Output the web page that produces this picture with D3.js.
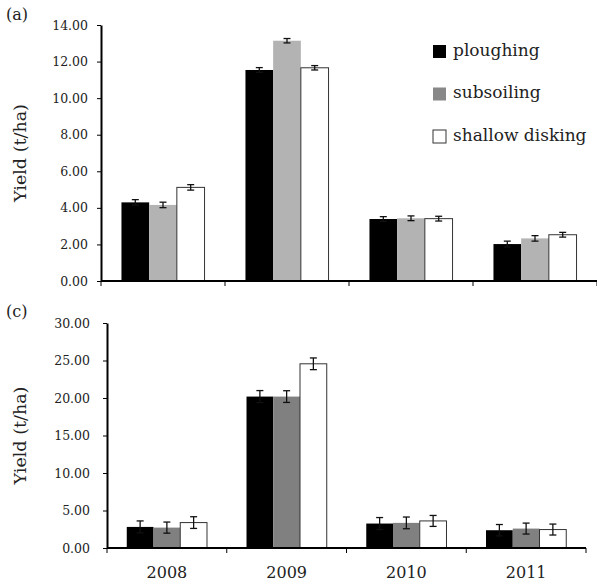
<!DOCTYPE html>
<html>
<head>
<meta charset="utf-8">
<script src="https://cdn.jsdelivr.net/npm/d3@7"></script>
<style>
  body { margin: 0; background: #fff; }
  svg { display: block; font-family: 'DejaVu Serif', serif; }
</style>
</head>
<body>
<svg id="chart" width="597" height="583"></svg>
<script>
const years = ['2008', '2009', '2010', '2011']
const seriesNames = ['ploughing', 'subsoiling', 'shallow disking']

// panel (a)
const ploughingA = [4.30, 11.54, 3.39, 2.02]
const subsoilingA = [4.16, 13.14, 3.43, 2.33]
const shallowA = [5.12, 11.66, 3.41, 2.53]
const ploughingErrA = [0.15, 0.13, 0.13, 0.16]
const subsoilingErrA = [0.15, 0.12, 0.13, 0.15]
const shallowErrA = [0.15, 0.12, 0.13, 0.13]
const ticksA = [0, 2, 4, 6, 8, 10, 12, 14]

// panel (c)
const ploughingC = [2.81, 20.19, 3.26, 2.37]
const subsoilingC = [2.72, 20.19, 3.35, 2.59]
const shallowC = [3.39, 24.56, 3.61, 2.46]
const ploughingErrC = [0.80, 0.80, 0.80, 0.76]
const subsoilingErrC = [0.74, 0.78, 0.78, 0.73]
const shallowErrC = [0.78, 0.78, 0.73, 0.73]
const ticksC = [0, 5, 10, 15, 20, 25, 30]

const TEXT = '#222'
const svg = d3.select('#chart')

function drawPanel(opts) {
    const { label, labelY, x0, x1, yTop, yBottom, yMax, ticks, values, errors, fills, showYears } = opts

    const x = d3.scaleBand().domain(years).range([x0, x1])
        .paddingInner(0.33).paddingOuter(0.165)
    const xs = d3.scaleBand().domain(seriesNames).range([0, x.bandwidth()])
    const y = d3.scaleLinear().domain([0, yMax]).range([yBottom, yTop])

    const g = svg.append('g')

    // bars
    seriesNames.forEach((s, si) => {
        const data = years.map((yr, i) => ({ yr, v: values[si][i], e: errors[si][i] }))
        g.selectAll(null).data(data).enter().append('rect')
            .attr('x', d => x(d.yr) + xs(s))
            .attr('y', d => y(d.v))
            .attr('width', xs.bandwidth())
            .attr('height', d => y(0) - y(d.v))
            .attr('fill', fills[si])
            .attr('stroke', si === 2 ? '#333' : 'none')
            .attr('stroke-width', 1)

        // error bars
        const eb = g.selectAll(null).data(data).enter().append('g')
            .attr('stroke', '#111').attr('stroke-width', 1.3)
        const cx = d => x(d.yr) + xs(s) + xs.bandwidth() / 2
        eb.append('line')
            .attr('x1', cx).attr('x2', cx)
            .attr('y1', d => y(d.v + d.e)).attr('y2', d => y(d.v - d.e))
        eb.append('line')
            .attr('x1', d => cx(d) - 3.5).attr('x2', d => cx(d) + 3.5)
            .attr('y1', d => y(d.v + d.e)).attr('y2', d => y(d.v + d.e))
        eb.append('line')
            .attr('x1', d => cx(d) - 3.5).attr('x2', d => cx(d) + 3.5)
            .attr('y1', d => y(d.v - d.e)).attr('y2', d => y(d.v - d.e))
    })

    // y axis
    const yAxis = g.append('g')
        .attr('transform', `translate(${x0},0)`)
        .call(d3.axisLeft(y).tickValues(ticks).tickFormat(d3.format('.2f'))
            .tickSize(4).tickSizeOuter(0).tickPadding(x0 > 104 ? 13 : 9))
    yAxis.select('.domain').attr('stroke', '#000').attr('stroke-width', 2)
    yAxis.selectAll('.tick line').attr('stroke', '#000')
    yAxis.selectAll('text').attr('fill', TEXT)
        .style('font-family', 'DejaVu Serif, serif').style('font-size', '12.5px')

    // x axis: line plus ticks at category boundaries
    const gap = x.step() - x.bandwidth()
    const edges = years.map(yr => x(yr) - gap / 2).concat([x1])
    g.append('line')
        .attr('x1', x0).attr('x2', x1)
        .attr('y1', yBottom).attr('y2', yBottom)
        .attr('stroke', '#000').attr('stroke-width', 2)
    g.selectAll(null).data(edges).enter().append('line')
        .attr('x1', d => d).attr('x2', d => d)
        .attr('y1', yBottom).attr('y2', yBottom + 5)
        .attr('stroke', '#000').attr('stroke-width', 1)

    if (showYears) {
        g.selectAll(null).data(years).enter().append('text')
            .attr('x', d => x(d) + x.bandwidth() / 2)
            .attr('y', yBottom + 30)
            .attr('text-anchor', 'middle')
            .attr('fill', TEXT)
            .style('font-size', '16px')
            .text(d => d)
    }

    // y title
    g.append('text')
        .attr('transform', `translate(26,${(yTop + yBottom) / 2}) rotate(-90)`)
        .attr('text-anchor', 'middle')
        .attr('fill', TEXT)
        .style('font-size', '17.5px')
        .text('Yield (t/ha)')

    // panel label
    g.append('text')
        .attr('x', 6).attr('y', labelY)
        .attr('fill', TEXT)
        .style('font-size', '16px')
        .text(label)
}

drawPanel({
    label: '(a)', labelY: 20,
    x0: 101, x1: 597, yTop: 25, yBottom: 281, yMax: 14, ticks: ticksA,
    values: [ploughingA, subsoilingA, shallowA],
    errors: [ploughingErrA, subsoilingErrA, shallowErrA],
    fills: ['#000', '#b3b3b3', '#fff'],
    showYears: false
})

drawPanel({
    label: '(c)', labelY: 317,
    x0: 107, x1: 586, yTop: 323, yBottom: 548, yMax: 30, ticks: ticksC,
    values: [ploughingC, subsoilingC, shallowC],
    errors: [ploughingErrC, subsoilingErrC, shallowErrC],
    fills: ['#000', '#808080', '#fff'],
    showYears: true
})

// legend (top panel)
const legendFills = ['#000', '#888', '#fff']
const legend = svg.append('g').selectAll(null).data(seriesNames).enter().append('g')
    .attr('transform', (d, i) => `translate(433,${45 + i * 42.5})`)
legend.append('rect')
    .attr('x', 0).attr('y', 0).attr('width', 13).attr('height', 13)
    .attr('fill', (d, i) => legendFills[i])
    .attr('stroke', (d, i) => i === 2 ? '#333' : 'none')
legend.append('text')
    .attr('x', 20).attr('y', 10.5)
    .attr('fill', TEXT)
    .style('font-size', '17px')
    .text(d => d)
</script>
</body>
</html>
